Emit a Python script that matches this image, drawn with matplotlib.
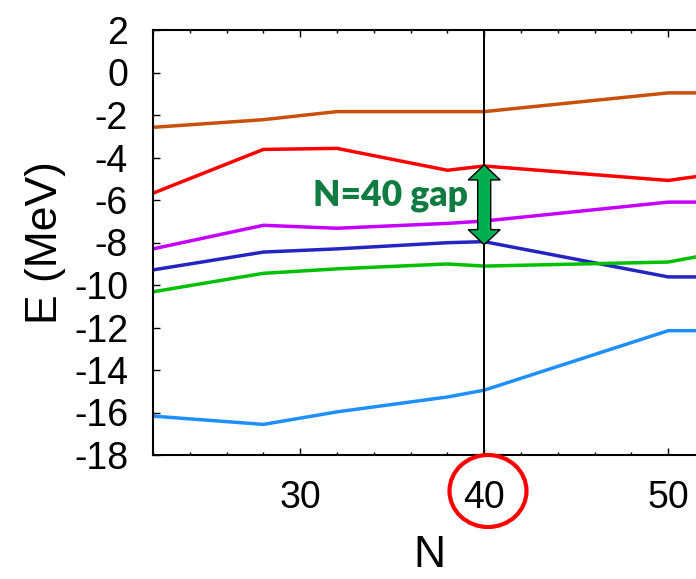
import numpy as np
import matplotlib
matplotlib.use('Agg')
import matplotlib.pyplot as plt
from matplotlib.patches import Polygon, Ellipse
from matplotlib.transforms import IdentityTransform
from matplotlib.ticker import MultipleLocator

# single-particle neutron levels vs neutron number
N = [22, 28, 32, 38, 40, 50, 52]
e_brown = [-2.58, -2.22, -1.84, -1.84, -1.84, -0.96, -0.96]
e_red = [-5.68, -3.62, -3.57, -4.60, -4.40, -5.08, -4.84]
e_magenta = [-8.30, -7.19, -7.33, -7.10, -6.99, -6.10, -6.10]
e_blue = [-9.29, -8.45, -8.30, -8.01, -7.96, -9.62, -9.62]
e_green = [-10.32, -9.45, -9.24, -9.01, -9.11, -8.92, -8.60]
e_lightblue = [-16.17, -16.56, -15.97, -15.27, -14.95, -12.15, -12.15]

levels = [
    (e_brown, '#c8500a'),
    (e_red, '#ff0000'),
    (e_magenta, '#c400ff'),
    (e_blue, '#2424c0'),
    (e_green, '#00c000'),
    (e_lightblue, '#1e8fff'),
]

N_gap = 40
gap_top = -4.35
gap_bottom = -8.10

plt.rcParams['font.family'] = ['Liberation Sans', 'DejaVu Sans']
plt.rcParams['axes.unicode_minus'] = False

fig = plt.figure(figsize=(6.96, 5.79), dpi=100)
ax = fig.add_axes([153 / 696, 1 - 455 / 579, 552 / 696, 425 / 579])

for e, c in levels:
    ax.plot(N, e, color=c, lw=2.5, zorder=2)

ax.axvline(N_gap, color='black', lw=1.4, zorder=3)

ax.set_xlim(22, 52)
ax.set_ylim(-18, 2)
ax.xaxis.set_major_locator(MultipleLocator(10))
ax.xaxis.set_minor_locator(MultipleLocator(2))
ax.yaxis.set_major_locator(MultipleLocator(2))
ax.tick_params(which='both', direction='in', top=True, right=False,
               width=1.0, labelsize=27, pad=18)
ax.tick_params(which='major', length=5)
ax.tick_params(which='minor', length=2.5)
for s in ['left', 'bottom', 'top']:
    ax.spines[s].set_linewidth(1.5)
ax.spines['right'].set_visible(False)

ax.set_xlabel('N', fontsize=32, labelpad=14)
ax.set_ylabel('E (MeV)', fontsize=32, labelpad=6)

# double-headed gap arrow, built in pixel space
fig.canvas.draw()
cx, yt = ax.transData.transform((N_gap, gap_top))
_, yb = ax.transData.transform((N_gap, gap_bottom))
hw, sw, hl = 16, 6.5, 15
verts = [
    (cx, yt), (cx + hw, yt - hl), (cx + sw, yt - hl), (cx + sw, yb + hl),
    (cx + hw, yb + hl), (cx, yb), (cx - hw, yb + hl), (cx - sw, yb + hl),
    (cx - sw, yt - hl), (cx - hw, yt - hl),
]
arrow = Polygon(verts, closed=True, facecolor='#00b050', edgecolor='black',
                lw=1.0, transform=IdentityTransform(), zorder=5)
fig.add_artist(arrow)

ax.text(39.1, -6.26, 'N=40 gap', color='#107c41', fontsize=25.5,
        fontweight='heavy', family='Lato', ha='right', va='baseline', zorder=6)

# highlight the N=40 tick label
circ = Ellipse((488 / 696, 1 - 491 / 579), 77 / 696, 72 / 579,
               transform=fig.transFigure, fill=False, edgecolor='#ff0000',
               lw=3.0, clip_on=False)
fig.add_artist(circ)

fig.savefig('out.png', dpi=100)
